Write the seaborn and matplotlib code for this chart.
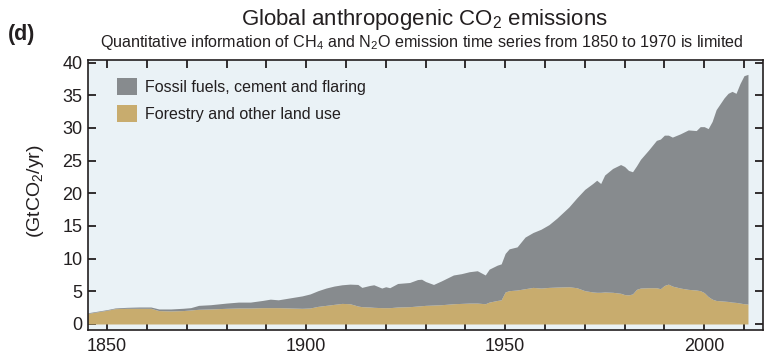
import matplotlib
matplotlib.use("Agg")
import matplotlib.pyplot as plt
from matplotlib.patches import Patch
from matplotlib.ticker import MultipleLocator
import seaborn as sns

# ---- data, GtCO2/yr ----
years = [1845, 1848, 1850, 1852, 1855, 1858, 1861, 1863, 1866, 1869, 1871, 1873,
         1876, 1880, 1883, 1886, 1889, 1891, 1893, 1896, 1899, 1901, 1903, 1905,
         1907, 1909, 1911, 1913, 1914, 1916, 1917, 1919, 1920, 1921, 1923, 1926,
         1928, 1929, 1930, 1932, 1934, 1937, 1939, 1941, 1943, 1945, 1946, 1948,
         1949, 1950, 1951, 1953, 1955, 1957, 1959, 1961, 1963, 1966, 1968, 1970,
         1972, 1973, 1974, 1975, 1977, 1979, 1980, 1981, 1982, 1983, 1984, 1986,
         1988, 1989, 1990, 1991, 1992, 1994, 1996, 1998, 1999, 2000, 2001, 2002,
         2003, 2004, 2005, 2006, 2007, 2008, 2009, 2010, 2011]
land_use = [1.6, 1.9, 2.1, 2.35, 2.4, 2.4, 2.4, 2.05, 2.0, 2.05, 2.15, 2.25,
            2.3, 2.4, 2.45, 2.45, 2.5, 2.5, 2.5, 2.45, 2.4, 2.45, 2.7, 2.85,
            3.0, 3.15, 3.1, 2.75, 2.65, 2.6, 2.55, 2.5, 2.5, 2.5, 2.6, 2.65,
            2.75, 2.8, 2.85, 2.9, 2.95, 3.1, 3.15, 3.2, 3.2, 3.1, 3.35, 3.6,
            3.7, 4.9, 5.1, 5.2, 5.4, 5.6, 5.5, 5.6, 5.65, 5.7, 5.55, 5.1,
            4.9, 4.85, 4.85, 4.9, 4.85, 4.7, 4.5, 4.45, 4.6, 5.3, 5.5, 5.55,
            5.55, 5.4, 5.9, 6.1, 5.8, 5.5, 5.3, 5.2, 5.1, 4.8, 4.2, 3.8,
            3.6, 3.55, 3.5, 3.45, 3.35, 3.3, 3.2, 3.1, 3.05]
total = [1.7, 2.0, 2.2, 2.45, 2.55, 2.6, 2.6, 2.3, 2.3, 2.4, 2.5, 2.85,
         2.95, 3.2, 3.35, 3.35, 3.6, 3.8, 3.7, 4.0, 4.3, 4.6, 5.1, 5.5,
         5.8, 6.0, 6.1, 6.05, 5.6, 5.9, 6.0, 5.5, 5.7, 5.55, 6.2, 6.35,
         6.8, 6.85, 6.5, 6.05, 6.6, 7.5, 7.7, 8.0, 8.15, 7.5, 8.4, 9.0,
         9.2, 10.8, 11.5, 11.8, 13.3, 14.0, 14.5, 15.2, 16.2, 17.9, 19.3, 20.6,
         21.5, 22.0, 21.5, 22.8, 23.8, 24.4, 24.1, 23.5, 23.3, 24.2, 25.2, 26.6,
         28.1, 28.3, 28.9, 28.9, 28.6, 29.1, 29.7, 29.6, 30.2, 30.2, 29.9, 31.0,
         32.8, 33.7, 34.6, 35.3, 35.6, 35.3, 36.8, 38.0, 38.2]

labels = ["Fossil fuels, cement and flaring", "Forestry and other land use"]
y_ticks = [0, 5, 10, 15, 20, 25, 30, 35, 40]
x_ticks = [1850, 1900, 1950, 2000]

GRAY = "#878b8e"
TAN = "#c8ac6e"
BG = "#eaf2f6"
INK = "#231f20"

sns.set_theme(style="ticks")
plt.rcParams["font.family"] = ["Liberation Sans", "DejaVu Sans"]
plt.rcParams["mathtext.default"] = "regular"
REG = ["Liberation Sans", "DejaVu Sans"]

fig = plt.figure(figsize=(7.71, 3.57), dpi=100)
ax = fig.add_axes([88 / 771, 1 - 330 / 357, (762.7 - 88) / 771, 270 / 357])
ax.set_facecolor(BG)

ax.fill_between(years, 0, land_use, color=TAN, linewidth=0, zorder=2)
ax.fill_between(years, land_use, total, color=GRAY, linewidth=0, zorder=2)

ax.set_xlim(1845.2, 2014.7)
ax.set_ylim(-0.92, 40.4)
ax.set_xticks(x_ticks)
ax.xaxis.set_minor_locator(MultipleLocator(10))
ax.set_yticks(y_ticks)
ax.tick_params(which="both", direction="in", top=True, right=True,
               length=6, width=1.3, color=INK, labelcolor=INK, labelsize=13)
ax.tick_params(axis="x", which="major", pad=6)
ax.tick_params(axis="y", which="major", pad=4)
for sp in ax.spines.values():
    sp.set_color(INK)
    sp.set_linewidth(1.2)
ax.set_xlabel("")
ax.set_ylabel("")

handles = [Patch(facecolor=GRAY, edgecolor="none"), Patch(facecolor=TAN, edgecolor="none")]
leg = ax.legend(handles, labels, loc="upper left", bbox_to_anchor=(0.0425, 0.932),
                frameon=False, borderpad=0, borderaxespad=0,
                handlelength=1.29, handleheight=1.25, handletextpad=0.48,
                labelspacing=0.62, prop={"family": REG, "size": 11.5})
for t in leg.get_texts():
    t.set_color(INK)

fig.text(0.551, 1 - 25 / 357, r"Global anthropogenic CO$_2$ emissions",
         ha="center", va="baseline", fontsize=16, color=INK, family=REG)
fig.text(0.547, 1 - 47 / 357,
         r"Quantitative information of CH$_4$ and N$_2$O emission time series from 1850 to 1970 is limited",
         ha="center", va="baseline", fontsize=11.6, color=INK, family=REG)
fig.text(8 / 771, 1 - 40 / 357, "(d)", ha="left", va="baseline",
         fontsize=15.5, fontweight="bold", color=INK, family=REG)
fig.text(35 / 771, 1 - 191 / 357, r"(GtCO$_2$/yr)", rotation=90,
         ha="center", va="center", fontsize=14, color=INK, family=REG)

fig.savefig("out.png", dpi=100, facecolor="white")
